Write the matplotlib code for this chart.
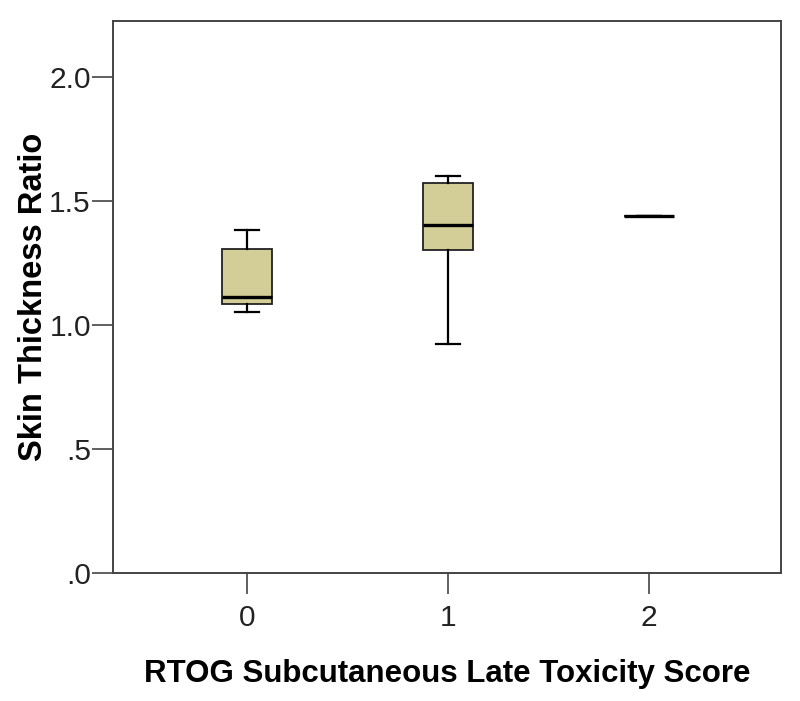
import matplotlib
matplotlib.use("Agg")
import matplotlib.pyplot as plt

plt.rcParams['font.family'] = ['Liberation Sans', 'DejaVu Sans']

categories = ["0", "1", "2"]
whisker_low = [1.052, 0.924, 1.438]
q1 = [1.083, 1.301, 1.438]
median = [1.111, 1.402, 1.438]
q3 = [1.304, 1.573, 1.438]
whisker_high = [1.382, 1.600, 1.438]
yticks = [0.0, 0.5, 1.0, 1.5, 2.0]
ytick_labels = [".0", ".5", "1.0", "1.5", "2.0"]

fig = plt.figure(figsize=(8, 7.01), dpi=100)
ax = fig.add_axes([113/800, 1-573/701, (781-113)/800, (573-21)/701])

stats = []
for i, c in enumerate(categories):
    stats.append(dict(label=c, whislo=whisker_low[i], q1=q1[i], med=median[i],
                      q3=q3[i], whishi=whisker_high[i], fliers=[]))

positions = list(range(len(categories)))

ax.bxp(stats, positions=positions, widths=0.25, capwidths=0.12,
       patch_artist=True, showfliers=False,
       boxprops=dict(facecolor='#D3CE97', edgecolor='#222222', linewidth=1.3),
       medianprops=dict(color='black', linewidth=2.4, solid_capstyle='butt'),
       whiskerprops=dict(color='black', linewidth=1.6),
       capprops=dict(color='black', linewidth=1.6))

ax.set_xlim(-0.667, 2.657)
ax.set_ylim(0, 2.224)
ax.set_xticks(positions)
ax.set_xticklabels(categories)
ax.set_yticks(yticks)
ax.set_yticklabels(ytick_labels)

for s in ax.spines.values():
    s.set_color('#444444')
    s.set_linewidth(1.4)

ax.tick_params(axis='both', direction='out', length=15, width=1.2, color='#444444',
               labelsize=21.5, labelcolor='#222222')
ax.tick_params(axis='x', pad=7)
ax.tick_params(axis='y', pad=1)

ax.set_xlabel("RTOG Subcutaneous Late Toxicity Score", fontsize=22.5, fontweight='bold',
              labelpad=20)
ax.set_ylabel("Skin Thickness Ratio", fontsize=23.5, fontweight='bold', labelpad=0)

fig.savefig("out.png", dpi=100)
